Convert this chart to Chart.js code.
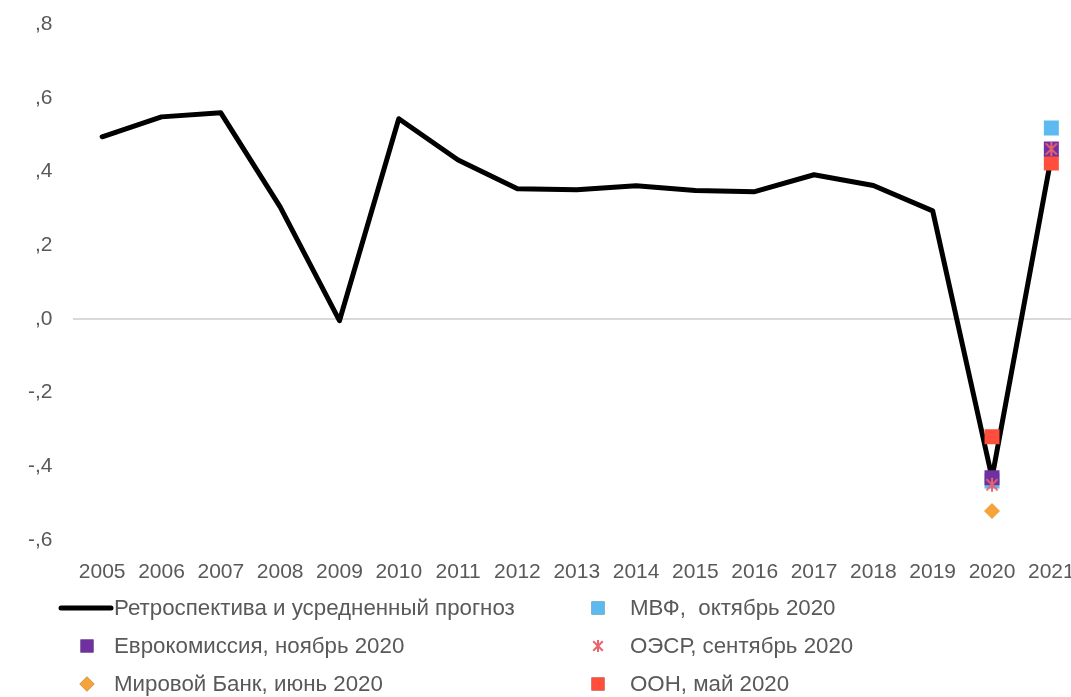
<!DOCTYPE html>
<html>
<head>
<meta charset="utf-8">
<script src="https://cdn.jsdelivr.net/npm/chart.js@4/dist/chart.umd.min.js"></script>
<style>
html,body{margin:0;padding:0;background:#fff;overflow:hidden;}
#c{display:block;}
</style>
</head>
<body>
<canvas id="c" width="1081" height="697" style="width:1081px;height:697px;"></canvas>
<script>
// ---- data ----
const years = ['2005','2006','2007','2008','2009','2010','2011','2012','2013','2014','2015','2016','2017','2018','2019','2020','2021'];
const retroValues = [0.494, 0.548, 0.559, 0.304, -0.005, 0.543, 0.431, 0.353, 0.350, 0.361, 0.348, 0.345, 0.391, 0.362, 0.293, -0.431, 0.44];
const forecastYears = ['2020', '2021'];
const imfValues = [-0.44, 0.518];
const ecValues = [-0.431, 0.461];
const oecdValues = [-0.45, 0.461];
const wbValues = [-0.521];
const unValues = [-0.320, 0.423];
const yTickLabels = ['-,6', '-,4', '-,2', ',0', ',2', ',4', ',6', ',8'];
const seriesNames = ['Ретроспектива и усредненный прогноз', 'МВФ,  октябрь 2020', 'Еврокомиссия, ноябрь 2020', 'ОЭСР, сентябрь 2020', 'Мировой Банк, июнь 2020', 'ООН, май 2020'];

const pts = (vals) => vals.map((v, i) => ({x: forecastYears[i], y: v}));

function starCanvas(size, color, lw) {
  const c = document.createElement('canvas');
  c.width = size; c.height = size;
  const g = c.getContext('2d');
  g.strokeStyle = color; g.lineWidth = lw;
  const m = size / 2, r = size / 2 - 1;
  g.beginPath();
  g.moveTo(m, m - r); g.lineTo(m, m + r);
  const d = r * 0.8;
  g.moveTo(m - d, m - d); g.lineTo(m + d, m + d);
  g.moveTo(m + d, m - d); g.lineTo(m - d, m + d);
  g.stroke();
  return c;
}
const starColor = '#E8636B';
const starBig = starCanvas(16, starColor, 2);
const starSmall = starCanvas(14, starColor, 2);

const FONT = "'Liberation Sans', Arial, sans-serif";
const TXT = '#595959';

const legendPlugin = {
  id: 'customLegend',
  afterDraw(chart) {
    const ctx = chart.ctx;
    const ds = chart.data.datasets;
    const rows = [608, 646, 684];
    const items = [
      {i: 0, col: 0, row: 0}, {i: 1, col: 1, row: 0},
      {i: 2, col: 0, row: 1}, {i: 3, col: 1, row: 1},
      {i: 4, col: 0, row: 2}, {i: 5, col: 1, row: 2}
    ];
    const colSym = [87, 598], colTxt = [114, 630];
    ctx.save();
    ctx.font = '22.3px ' + FONT;
    ctx.fillStyle = TXT;
    ctx.textBaseline = 'middle';
    items.forEach(it => {
      const d = ds[it.i];
      const y = rows[it.row];
      if (it.i === 0) {
        ctx.save();
        ctx.strokeStyle = '#000'; ctx.lineWidth = 5; ctx.lineCap = 'round';
        ctx.beginPath(); ctx.moveTo(61, y); ctx.lineTo(111, y); ctx.stroke();
        ctx.restore();
      } else if (d.legendStyle === 'star') {
        ctx.drawImage(starSmall, colSym[it.col] - 7, y - 7);
      } else {
        Chart.helpers.drawPoint(ctx, {pointStyle: d.pointStyle, radius: d.legendRadius, borderWidth: 0}, colSym[it.col], y);
        ctx.fillStyle = d.backgroundColor;
        ctx.fill();
      }
      ctx.fillStyle = TXT;
      ctx.fillText(d.label, colTxt[it.col], y + 1);
    });
    ctx.restore();
  }
};

new Chart(document.getElementById('c'), {
  type: 'line',
  data: {
    labels: years,
    datasets: [
      {label: seriesNames[0], data: retroValues, borderColor: '#000', borderWidth: 5, pointRadius: 0, tension: 0, order: 10, borderJoinStyle: 'round', borderCapStyle: 'round'},
      {label: seriesNames[1], data: pts(imfValues), showLine: false, pointStyle: 'rect', pointRadius: 10.6, backgroundColor: '#5DBAF0', borderWidth: 0, order: 6, legendRadius: 9.2},
      {label: seriesNames[2], data: pts(ecValues), showLine: false, pointStyle: 'rect', pointRadius: 10.6, backgroundColor: '#7030A0', borderWidth: 0, order: 3, legendRadius: 9.2},
      {label: seriesNames[3], data: pts(oecdValues), showLine: false, pointStyle: starBig, pointRadius: 8, backgroundColor: starColor, borderWidth: 0, order: 1, legendStyle: 'star'},
      {label: seriesNames[4], data: pts(wbValues), showLine: false, pointStyle: 'rectRot', pointRadius: 8, backgroundColor: '#F5A33B', borderWidth: 0, order: 2, legendRadius: 7.5},
      {label: seriesNames[5], data: pts(unValues), showLine: false, pointStyle: 'rect', pointRadius: 10.6, backgroundColor: '#FF4E3C', borderWidth: 0, order: 4, legendRadius: 9.2}
    ]
  },
  options: {
    responsive: false,
    maintainAspectRatio: false,
    animation: false,
    devicePixelRatio: 1,
    layout: {autoPadding: false, padding: {left: 0, right: 0, top: 24, bottom: 109}},
    plugins: {legend: {display: false}, tooltip: {enabled: false}},
    elements: {point: {hoverRadius: 0}},
    scales: {
      x: {
        offset: true,
        grid: {display: false},
        border: {display: false},
        ticks: {color: TXT, font: {family: FONT, size: 21}, padding: 12, maxRotation: 0, autoSkip: false},
        afterFit(s) { s.height = 48; s.paddingLeft = 0; s.paddingRight = 0; }
      },
      y: {
        min: -0.6, max: 0.8,
        border: {display: false},
        grid: {
          drawTicks: false,
          color: (c) => (c.tick && Math.abs(c.tick.value) < 1e-9) ? '#D9D9D9' : 'rgba(0,0,0,0)',
          lineWidth: 2
        },
        ticks: {
          stepSize: 0.2, color: TXT, font: {family: FONT, size: 21}, padding: 20,
          callback: (v, i) => yTickLabels[i]
        },
        afterFit(s) { s.width = 72.5; s.paddingTop = 0; s.paddingBottom = 0; }
      }
    }
  },
  plugins: [legendPlugin]
});
</script>
</body>
</html>
